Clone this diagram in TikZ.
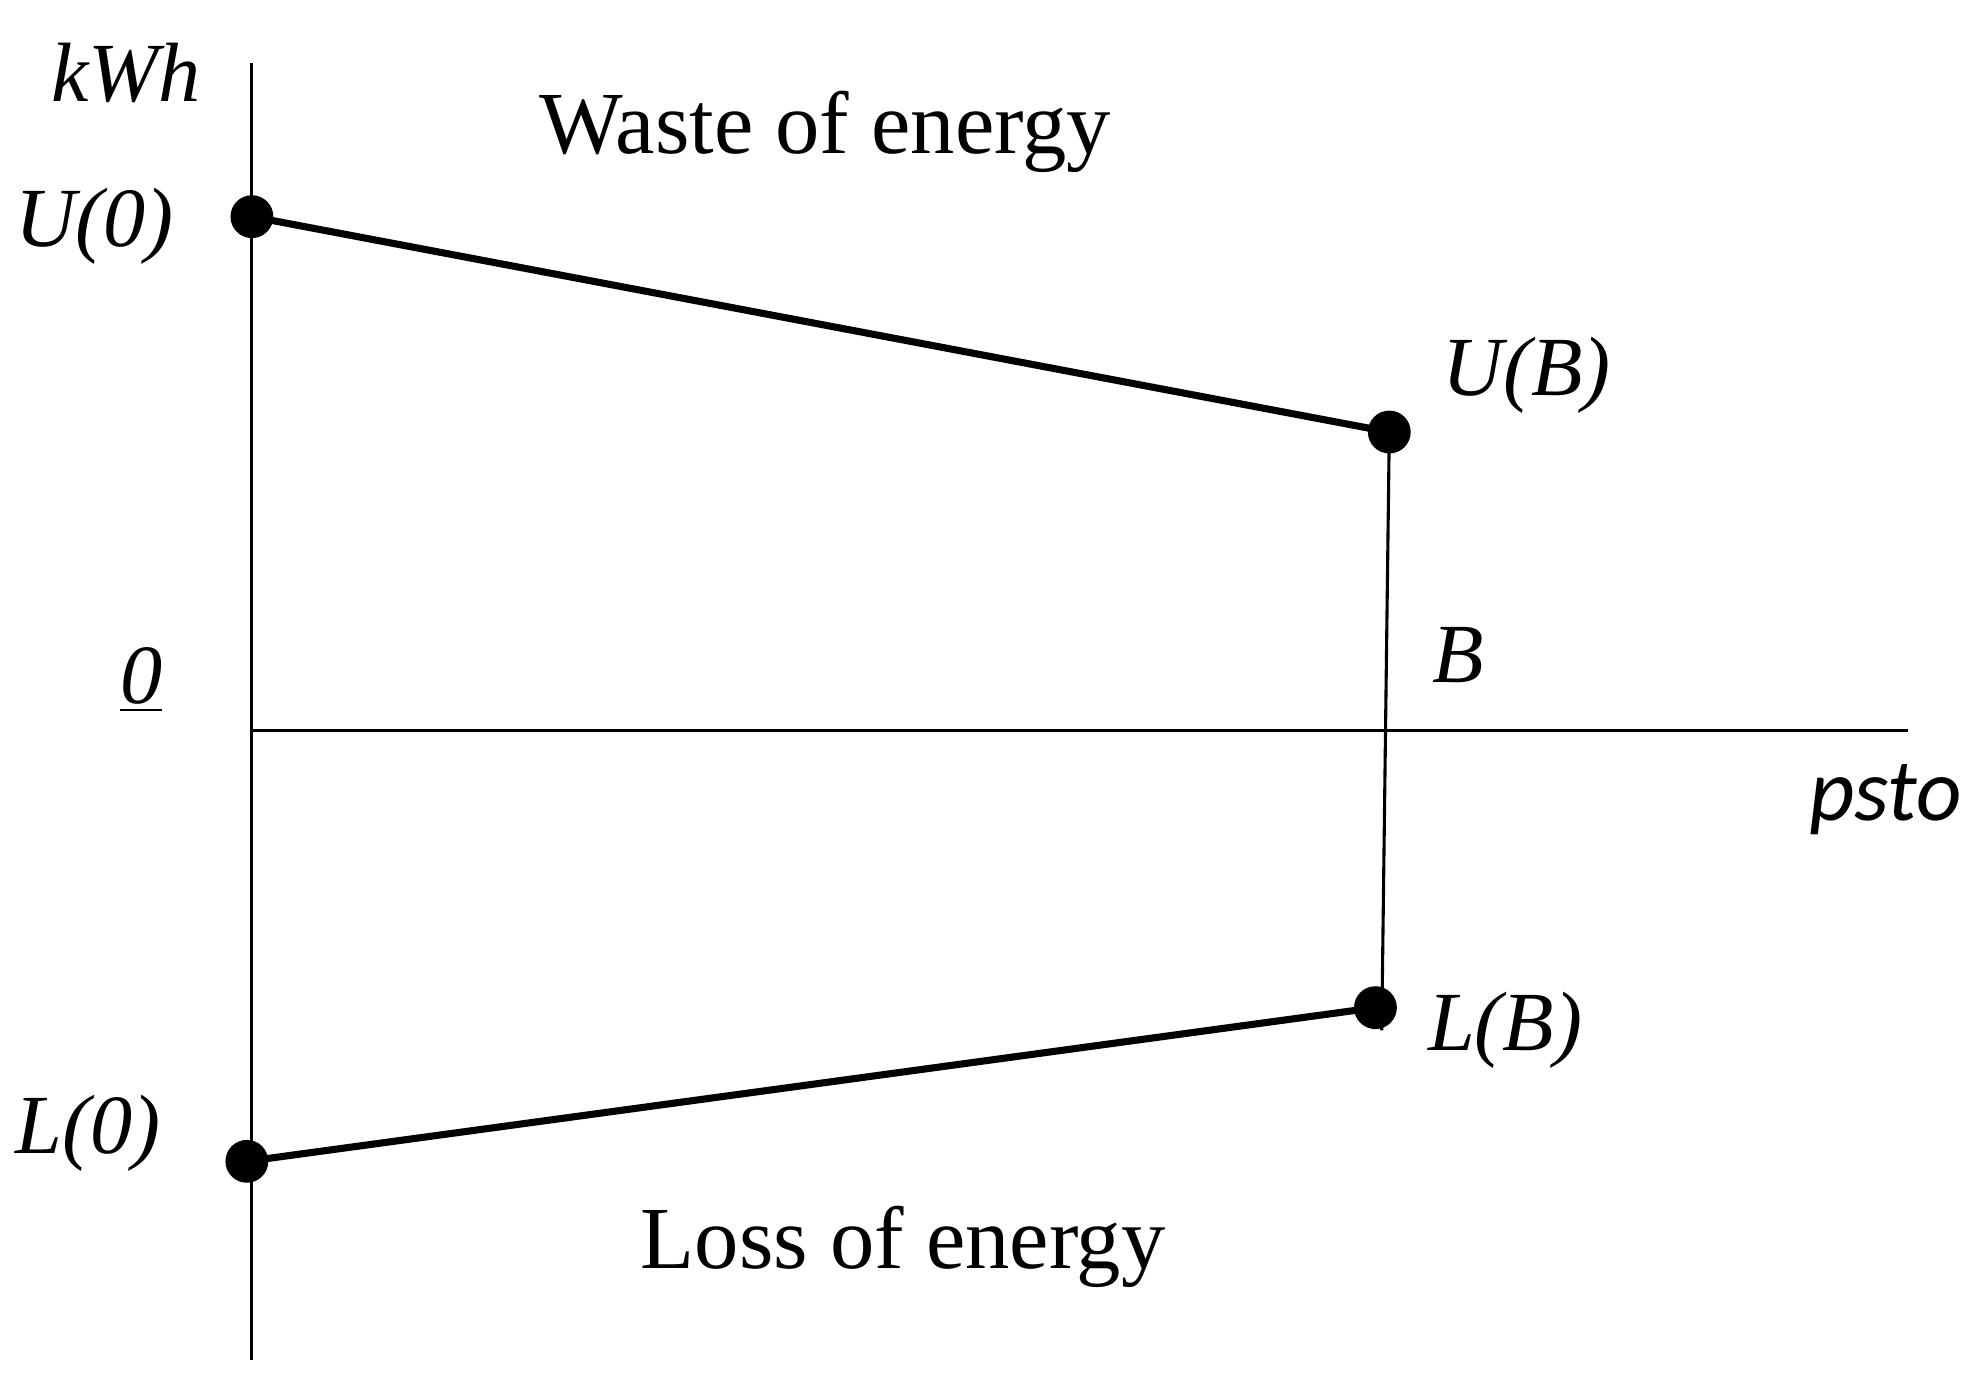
\documentclass[tikz,border=0pt]{standalone}
\usepackage{fontspec}
\setmainfont{Liberation Serif}
\newfontfamily\carl{Carlito}
\begin{document}
\begin{tikzpicture}[x=0.01cm,y=-0.01cm,
  dot/.style={circle,fill=black,inner sep=0pt,minimum size=0.34cm},
  lbl/.style={font=\fontsize{19}{22}\selectfont\itshape},
  big/.style={font=\fontsize{20}{24}\selectfont},
  axis/.style={line width=0.7pt},
  seg/.style={line width=1.6pt}]
\useasboundingbox (0,0) rectangle (1568,1100);
\coordinate (ytop) at (200,50); \coordinate (ybot) at (200,1080);
\coordinate (xl) at (200,580); \coordinate (xr) at (1515,580);
\draw[axis] (ytop) -- (ybot);
\draw[axis] (xl) -- (xr);
\node[dot] (u0) at (200,172) {};
\node[dot] (ub) at (1103,343) {};
\node[dot] (lb) at (1092,800) {};
\node[dot] (l0) at (196,922) {};
\coordinate (vb) at (1097,818);
\draw[axis] (ub.center) -- (vb);
\draw[seg] (u0.center) -- (ub.center);
\draw[seg] (l0.center) -- (lb.center);
\node[lbl] (kwh) at (100,58) {kWh};
\node[lbl] (u0l) at (75,180) {U(0)};
\node[lbl] (ubl) at (1212,298) {U(B)};
\node[lbl] (zl) at (112,540) {\underline{0}};
\node[lbl] (bl) at (1158,520) {B};
\node[font=\fontsize{20}{24}\selectfont\carl\itshape] (ps) at (1497,635) {psto};
\node[lbl] (lbl2) at (1195,818) {L(B)};
\node[lbl] (l0l) at (70,900) {L(0)};
\node[big] (w) at (655,105) {Waste of energy};
\node[big] (l) at (717,990) {Loss of energy};
\end{tikzpicture}
\end{document}
